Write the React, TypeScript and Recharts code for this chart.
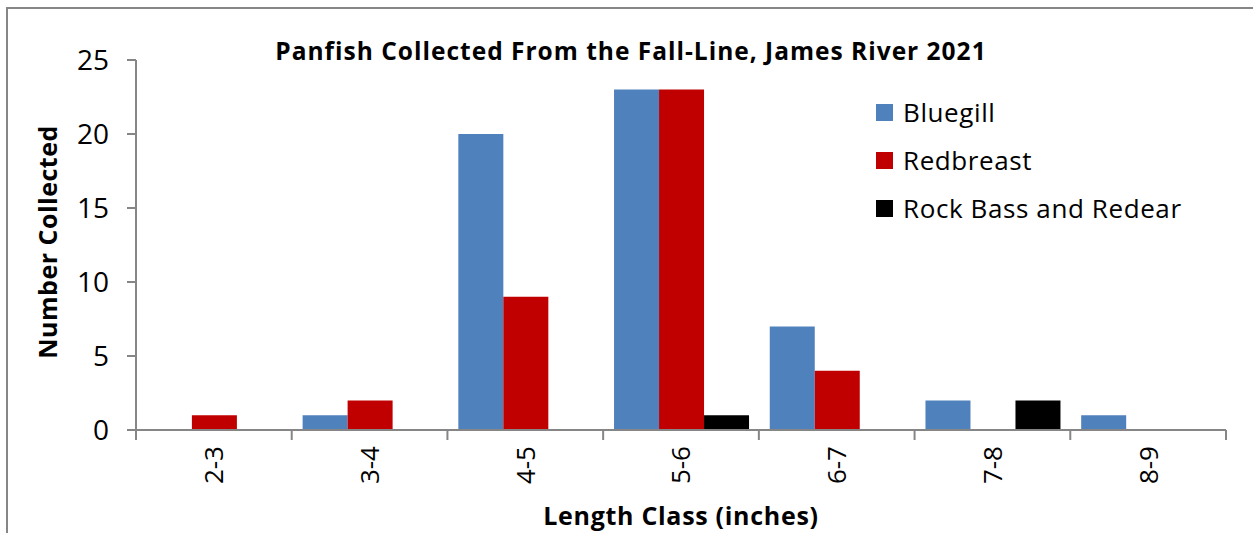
import React from 'react';
import { BarChart, Bar, XAxis, YAxis } from 'recharts';

const lengthClasses = ['2-3', '3-4', '4-5', '5-6', '6-7', '7-8', '8-9'];
const bluegill = [0, 1, 20, 23, 7, 2, 1];
const redbreast = [1, 2, 9, 23, 4, 0, 0];
const rockBassRedear = [0, 0, 0, 1, 0, 2, 0];
const yTicks = [0, 5, 10, 15, 20, 25];

const seriesKeys = ['bluegill', 'redbreast', 'rockBass'];
const seriesNames = ['Bluegill', 'Redbreast', 'Rock Bass and Redear'];
const seriesColors = ['#4F81BD', '#C00000', '#000000'];

const chartData = lengthClasses.map((cls, i) => ({
  cls,
  bluegill: bluegill[i],
  redbreast: redbreast[i],
  rockBass: rockBassRedear[i],
}));

const FONT = '"Open Sans", sans-serif';
const AXIS_GREY = '#868686';

// rotated category label plus tick marks on the category boundaries
const CategoryTick = (props: any) => {
  const { x, y, payload, index } = props;
  const half = payload?.offset ?? 0;
  return (
    <g>
      <line x1={x - half} y1={y - 8} x2={x - half} y2={y + 2} stroke={AXIS_GREY} strokeWidth={2} />
      {index === lengthClasses.length - 1 && (
        <line x1={x + half} y1={y - 8} x2={x + half} y2={y + 2} stroke={AXIS_GREY} strokeWidth={2} />
      )}
      <text
        transform={`translate(${x},${y + 8}) rotate(-90)`}
        textAnchor="end"
        dy="0.36em"
        fontSize={26}
        fontFamily={FONT}
        fill="#000"
      >
        {payload.value}
      </text>
    </g>
  );
};

const YTitle = (props: any) => {
  const { viewBox } = props;
  const cx = viewBox.x + 12;
  const cy = viewBox.y + viewBox.height / 2 - 3;
  return (
    <text
      transform={`translate(${cx},${cy}) rotate(-90)`}
      textAnchor="middle"
      dy="0.35em"
      fontSize={25}
      letterSpacing={0.5}
      fontWeight="bold"
      fontFamily={FONT}
      fill="#000"
    >
      Number Collected
    </text>
  );
};

const XTitle = (props: any) => {
  const { viewBox } = props;
  return (
    <text
      x={viewBox.x + viewBox.width / 2}
      y={viewBox.y + 86}
      textAnchor="middle"
      dy="0.35em"
      fontSize={25}
      letterSpacing={0.7}
      fontWeight="bold"
      fontFamily={FONT}
      fill="#000"
    >
      Length Class (inches)
    </text>
  );
};

export default function App() {
  return (
    <div style={{ position: 'absolute', left: 0, top: 0, width: 1253, height: 533, background: '#fff', overflow: 'hidden' }}>
      <div
        style={{
          position: 'absolute',
          left: 6,
          top: 7,
          right: -4,
          bottom: -4,
          borderTop: `2px solid ${AXIS_GREY}`,
          borderLeft: `2px solid ${AXIS_GREY}`,
        }}
      />
      <BarChart
        width={1253}
        height={533}
        data={chartData}
        margin={{ top: 60, right: 27, bottom: 23, left: 36 }}
        barCategoryGap="7%"
        barGap={0}
        style={{ position: 'absolute', left: 0, top: 0 }}
      >
        <XAxis
          dataKey="cls"
          height={80}
          stroke={AXIS_GREY}
          strokeWidth={2}
          tickLine={false}
          tick={<CategoryTick />}
          interval={0}
          label={<XTitle />}
        />
        <YAxis
          width={100}
          domain={[0, 25]}
          ticks={yTicks}
          stroke={AXIS_GREY}
          strokeWidth={2}
          tickSize={9}
          tickMargin={18}
          tick={{ fill: '#000', fontSize: 28, fontFamily: FONT }}
          label={<YTitle />}
        />
        {seriesKeys.map((key, i) => (
          <Bar key={key} dataKey={key} name={seriesNames[i]} fill={seriesColors[i]} isAnimationActive={false} />
        ))}
      </BarChart>
      <div
        style={{
          position: 'absolute',
          left: 0,
          width: 1262,
          top: 34,
          textAlign: 'center',
          fontFamily: FONT,
          fontWeight: 'bold',
          fontSize: 24.5,
          letterSpacing: 1,
          lineHeight: '34px',
          color: '#000',
        }}
      >
        Panfish Collected From the Fall-Line, James River 2021
      </div>
      <div style={{ position: 'absolute', left: 876, top: 88, fontFamily: FONT }}>
        {seriesNames.map((name, i) => (
          <div key={name} style={{ display: 'flex', alignItems: 'center', height: 48 }}>
            <span style={{ width: 17, height: 17, background: seriesColors[i], marginRight: 10 }} />
            <span style={{ fontSize: 26, letterSpacing: 0.6, color: '#000' }}>{name}</span>
          </div>
        ))}
      </div>
    </div>
  );
}
